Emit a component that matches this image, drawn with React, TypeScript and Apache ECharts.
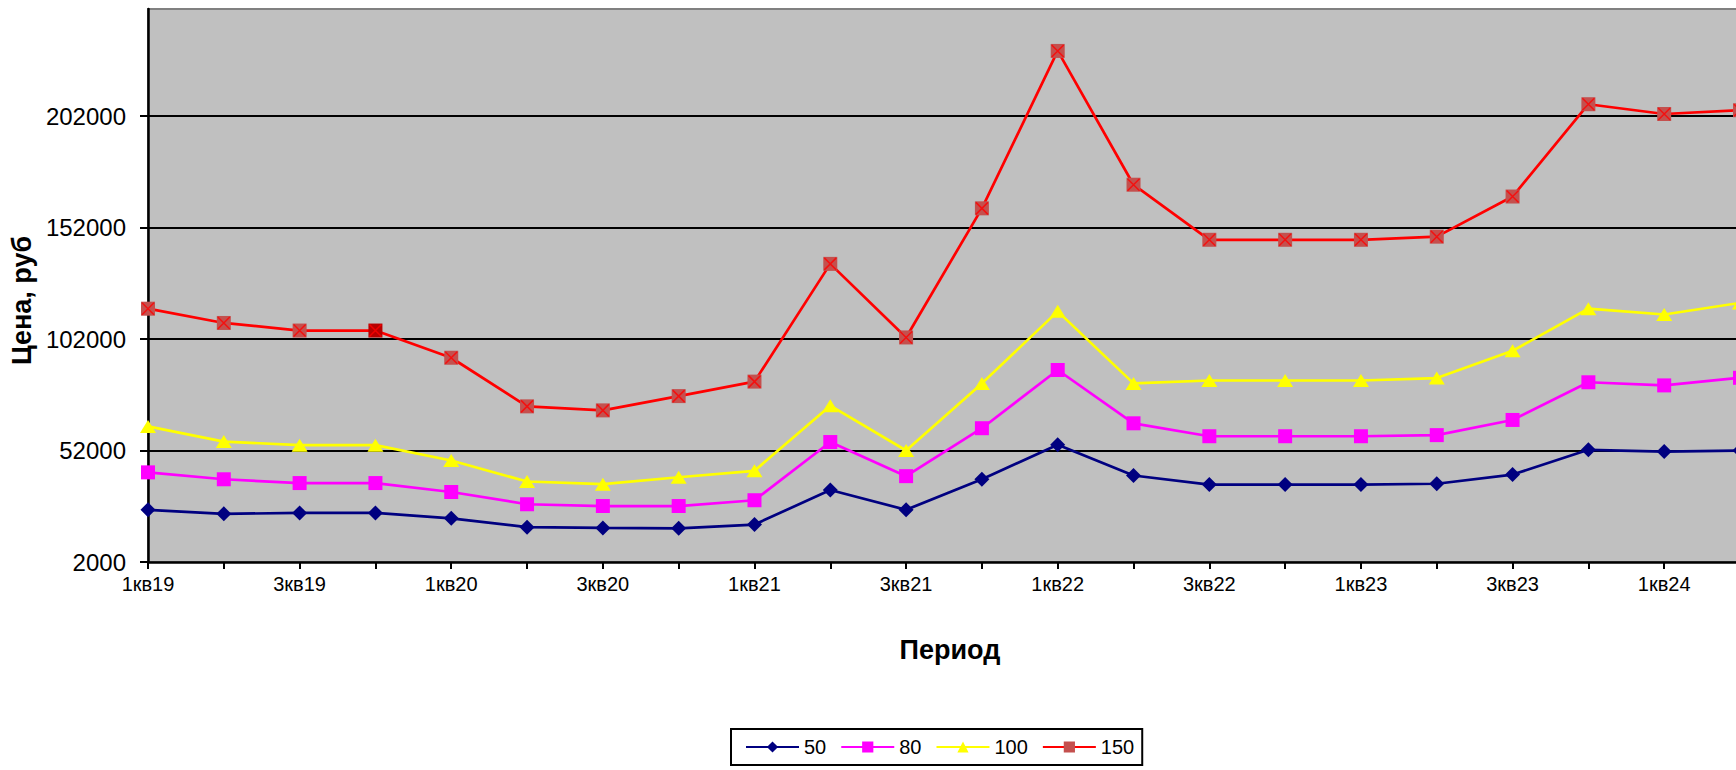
import React, { useEffect, useRef } from "react";
import * as echarts from "echarts";

const categories = [
  "1кв19", "2кв19", "3кв19", "4кв19",
  "1кв20", "2кв20", "3кв20", "4кв20",
  "1кв21", "2кв21", "3кв21", "4кв21",
  "1кв22", "2кв22", "3кв22", "4кв22",
  "1кв23", "2кв23", "3кв23", "4кв23",
  "1кв24", "2кв24",
];

const seriesNames = ["50", "80", "100", "150"];

const values50 = [25400, 23600, 24000, 24000, 21600, 17600, 17300, 17100, 18800, 34300, 25400, 39100, 54600, 40800, 36700, 36700, 36700, 37100, 41200, 52300, 51500, 52000];
const values80 = [42200, 39100, 37400, 37400, 33400, 27900, 27100, 27100, 29700, 55800, 40500, 62000, 88100, 64200, 58400, 58400, 58400, 58900, 65700, 82600, 81200, 84600];
const values100 = [62800, 56000, 54400, 54400, 47500, 38100, 36900, 40000, 42900, 72100, 52000, 82100, 114400, 82100, 83400, 83400, 83400, 84500, 96700, 115600, 113000, 118200];
const values150 = [115600, 109200, 105800, 105800, 93600, 71800, 70000, 76400, 82900, 135700, 102700, 160600, 231200, 171200, 146500, 146500, 146500, 147900, 165900, 207300, 202900, 204600];

const yMin = 2000;
const yMax = 250000;
const yInterval = 50000;

const FONT = "'Liberation Sans', Arial, sans-serif";

export default function App() {
  const ref = useRef<HTMLDivElement>(null);

  useEffect(() => {
    if (!ref.current) return;
    const chart = echarts.init(ref.current, undefined, { renderer: "svg" });

    const redData = values150.map((v, i) =>
      i === 3 ? { value: v, itemStyle: { color: "#B80000" } } : v
    );

    const option: any = {
      animation: false,
      backgroundColor: "#FFFFFF",
      textStyle: { fontFamily: FONT },
      grid: {
        left: 148,
        right: -4,
        top: 9,
        bottom: 208,
        containLabel: false,
        outerBoundsMode: "none",
        show: true,
        backgroundColor: "#C0C0C0",
        borderColor: "#808080",
        borderWidth: 2,
      },
      legend: {
        data: seriesNames,
        left: 731,
        top: 729,
        orient: "horizontal",
        backgroundColor: "#FFFFFF",
        borderColor: "#000000",
        borderWidth: 2,
        borderRadius: 0,
        padding: [8, 8, 8, 14],
        itemGap: 14,
        itemWidth: 53,
        itemHeight: 14,
        textStyle: { fontFamily: FONT, fontSize: 20, color: "#000", padding: [0, 0, 0, 0] },
      },
      xAxis: {
        type: "category",
        data: categories,
        boundaryGap: false,
        name: "Период",
        nameLocation: "middle",
        nameGap: 74,
        nameTextStyle: {
          fontFamily: FONT,
          fontSize: 27,
          fontWeight: "bold",
          color: "#000",
          padding: [0, 0, 0, 12],
        },
        axisLine: { show: true, lineStyle: { color: "#000", width: 2.5 } },
        axisTick: { show: true, interval: 0, length: 7, lineStyle: { color: "#000", width: 2 } },
        axisLabel: {
          interval: 1,
          margin: 12,
          fontFamily: FONT,
          fontSize: 20,
          color: "#000",
        },
        splitLine: { show: false },
      },
      yAxis: {
        type: "value",
        min: yMin,
        max: yMax,
        interval: yInterval,
        name: "Цена, руб",
        nameLocation: "middle",
        nameGap: 104,
        nameTextStyle: {
          fontFamily: FONT,
          fontSize: 27,
          fontWeight: "bold",
          color: "#000",
          padding: [0, 30, 0, 0],
        },
        axisLine: { show: true, lineStyle: { color: "#000", width: 2.5 } },
        axisTick: { show: true, length: 8, lineStyle: { color: "#000", width: 2 } },
        axisLabel: {
          margin: 22,
          fontFamily: FONT,
          fontSize: 24,
          color: "#000",
          showMaxLabel: false,
          formatter: (v: number) => String(v),
        },
        splitLine: {
          show: true,
          showMinLine: false,
          showMaxLine: false,
          lineStyle: { color: "#000", width: 2 },
        },
      },
      series: [
        {
          name: "50",
          type: "line",
          data: values50,
          symbol: "diamond",
          symbolSize: [15, 15],
          lineStyle: { color: "#000080", width: 2.7 },
          itemStyle: { color: "#000080" },
          z: 2,
        },
        {
          name: "80",
          type: "line",
          data: values80,
          symbol: "rect",
          symbolSize: [14, 14],
          lineStyle: { color: "#FF00FF", width: 2.7 },
          itemStyle: { color: "#FF00FF" },
          z: 2,
        },
        {
          name: "100",
          type: "line",
          data: values100,
          symbol: "triangle",
          symbolSize: [16, 13],
          lineStyle: { color: "#FFFF00", width: 2.7 },
          itemStyle: { color: "#FFFF00" },
          z: 2,
        },
        {
          name: "150",
          type: "line",
          data: redData,
          symbol: "rect",
          symbolSize: [14, 14],
          lineStyle: { color: "#FF0000", width: 2.7 },
          itemStyle: { color: "#C4504E" },
          z: 2,
        },
        {
          name: "150x",
          type: "scatter",
          data: values150,
          symbol: "path://M0 0L10 10M10 0L0 10",
          symbolSize: [12, 12],
          itemStyle: { color: "rgba(0,0,0,0)", borderColor: "#FF0000", borderWidth: 1.5 },
          silent: true,
          z: 3,
        },
      ],
    };

    chart.setOption(option);
    return () => {
      chart.dispose();
    };
  }, []);

  return (
    <div
      ref={ref}
      style={{ position: "absolute", left: 0, top: 0, width: 1736, height: 770, overflow: "hidden" }}
    />
  );
}
